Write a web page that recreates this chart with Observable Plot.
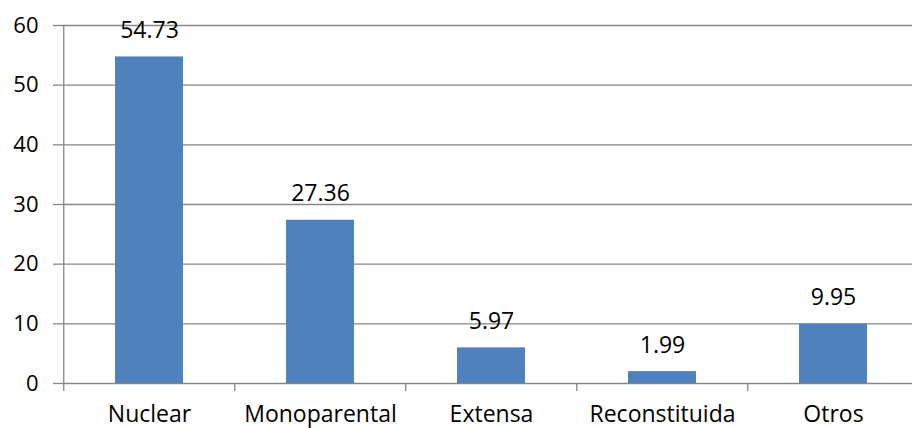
<!DOCTYPE html>
<html><head><meta charset="utf-8">
<script src="https://cdn.jsdelivr.net/npm/d3@7"></script>
<script src="https://cdn.jsdelivr.net/npm/@observablehq/plot@0.6"></script>
<style>
body{margin:0;background:#fff}
#chart{width:912px;height:428px;overflow:hidden}
</style>
</head><body><div id="chart"></div>
<script>
const categories = ["Nuclear", "Monoparental", "Extensa", "Reconstituida", "Otros"];
const values = [54.73, 27.36, 5.97, 1.99, 9.95];
const yTicks = [0, 10, 20, 30, 40, 50, 60];
const data = categories.map((c, i) => ({category: c, value: values[i]}));

const W = 912, H = 428, mL = 62, mR = -7.5, mT = 25, mB = 45;
const step = (W - mL - mR) / categories.length;
const grid = "#868686";
const barColor = "#4F81BD";
const font = "'Open Sans', sans-serif";

const chart = Plot.plot({
  width: W, height: H,
  marginLeft: mL, marginRight: mR, marginTop: mT, marginBottom: mB,
  style: {fontFamily: font, fontSize: "23px", color: "#000", background: "#fff", overflow: "hidden"},
  x: {domain: categories, paddingInner: 0.6, paddingOuter: 0.3},
  y: {domain: [0, 60]},
  marks: [
    Plot.gridY(yTicks, {stroke: grid, strokeOpacity: 1, strokeWidth: 1.3}),
    Plot.ruleX([categories[0]], {dx: -step / 2, y1: 60, y2: 0, stroke: grid, strokeWidth: 1.3}),
    Plot.ruleX(categories, {dx: -step / 2, y1: 0, y2: 0, insetBottom: -8, stroke: grid, strokeWidth: 1.3}),
    Plot.barY(data, {x: "category", y: "value", fill: barColor}),
    Plot.axisY(yTicks, {tickSize: 9, tickPadding: 15, stroke: grid, strokeOpacity: 1, strokeWidth: 1.3, fill: "#000", fontSize: 22, label: null}),
    Plot.axisX({tickSize: 0, tickPadding: 22, fontSize: 23, fill: "#000", label: null}),
    Plot.text(data, {x: "category", y: "value", text: d => d.value.toFixed(2), lineAnchor: "bottom", dy: -19, fontSize: 23, fill: "#000"})
  ]
});
document.getElementById("chart").appendChild(chart);
</script>
</body></html>
